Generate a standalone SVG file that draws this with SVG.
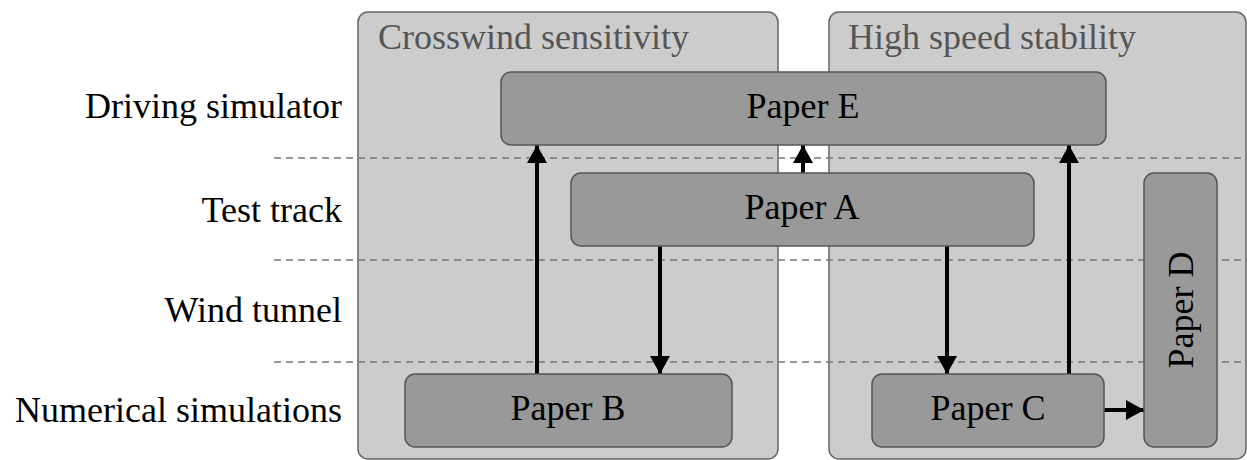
<svg xmlns="http://www.w3.org/2000/svg" width="1247" height="460" viewBox="0 0 1247 460">
<style>
.panel{fill:#cccccc;stroke:#666666;stroke-width:1.5}
.node{fill:#999999;stroke:#555555;stroke-width:1.5}
text{font-family:'Liberation Serif','DejaVu Serif',serif;font-size:36px}
.t{fill:#000000}
.pt{fill:#555555}
.dash{stroke:#777777;stroke-width:1.5;stroke-dasharray:7 5;fill:none}
.conn{stroke:#000000;stroke-width:4;fill:none}
</style>
<defs>
<marker id="ah" viewBox="0 0 18 20" refX="18" refY="10" markerWidth="18" markerHeight="20" markerUnits="userSpaceOnUse" orient="auto">
<path d="M0,0 L18,10 L0,20 Z" fill="#000000"/>
</marker>
</defs>
<rect width="1247" height="460" fill="#ffffff"/>
<g id="panel-crosswind">
<rect class="panel" x="358" y="12" width="420" height="447" rx="10"/>
<text class="pt" x="378" y="49" font-family="Liberation Serif, serif">Crosswind sensitivity</text>
</g>
<g id="panel-highspeed">
<rect class="panel" x="829" y="12" width="417" height="447" rx="10"/>
<text class="pt" x="848" y="49" font-family="Liberation Serif, serif">High speed stability</text>
</g>
<g id="rows">
<line class="dash" x1="274" y1="158" x2="1247" y2="158"/>
<line class="dash" x1="274" y1="260" x2="1247" y2="260"/>
<line class="dash" x1="274" y1="362" x2="1247" y2="362"/>
<text class="t" x="342" y="118" text-anchor="end" font-family="Liberation Serif, serif">Driving simulator</text>
<text class="t" x="342" y="222" text-anchor="end" font-family="Liberation Serif, serif">Test track</text>
<text class="t" x="342" y="322" text-anchor="end" font-family="Liberation Serif, serif">Wind tunnel</text>
<text class="t" x="342" y="422" text-anchor="end" font-family="Liberation Serif, serif">Numerical simulations</text>
</g>
<g id="connectors">
<line class="conn" x1="537" y1="374" x2="537" y2="145" marker-end="url(#ah)"/>
<line class="conn" x1="803" y1="173" x2="803" y2="145" marker-end="url(#ah)"/>
<line class="conn" x1="660" y1="246" x2="660" y2="374" marker-end="url(#ah)"/>
<line class="conn" x1="947" y1="246" x2="947" y2="374" marker-end="url(#ah)"/>
<line class="conn" x1="1069" y1="374" x2="1069" y2="145" marker-end="url(#ah)"/>
<line class="conn" x1="1104" y1="410" x2="1144" y2="410" marker-end="url(#ah)"/>
</g>
<g id="paper-e">
<rect class="node" x="501" y="72" width="605" height="73" rx="10"/>
<text class="t" x="803" y="118" text-anchor="middle" font-family="Liberation Serif, serif">Paper E</text>
</g>
<g id="paper-a">
<rect class="node" x="571" y="173" width="463" height="73" rx="10"/>
<text class="t" x="802" y="219" text-anchor="middle" font-family="Liberation Serif, serif">Paper A</text>
</g>
<g id="paper-b">
<rect class="node" x="405" y="374" width="327" height="73" rx="10"/>
<text class="t" x="568" y="420" text-anchor="middle" font-family="Liberation Serif, serif">Paper B</text>
</g>
<g id="paper-c">
<rect class="node" x="872" y="374" width="232" height="73" rx="10"/>
<text class="t" x="988" y="420" text-anchor="middle" font-family="Liberation Serif, serif">Paper C</text>
</g>
<g id="paper-d">
<rect class="node" x="1144" y="173" width="73" height="274" rx="10"/>
<text class="t" transform="translate(1193,310) rotate(-90)" text-anchor="middle" font-family="Liberation Serif, serif">Paper D</text>
</g>
</svg>
